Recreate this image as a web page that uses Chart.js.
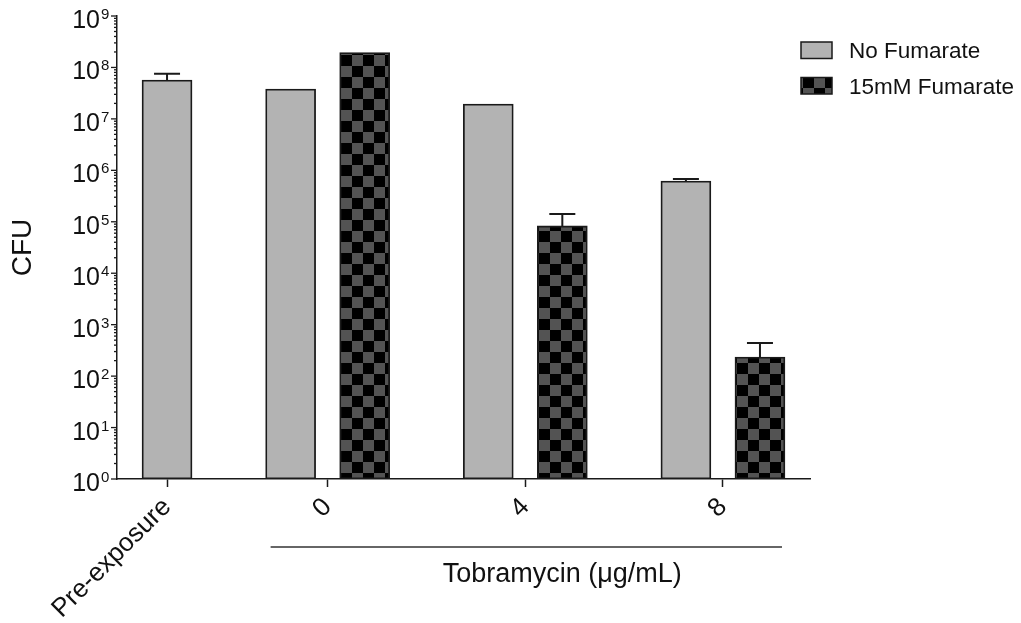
<!DOCTYPE html>
<html>
<head>
<meta charset="utf-8">
<title>CFU after tobramycin exposure</title>
<script src="https://cdn.jsdelivr.net/npm/chart.js@4.4.1/dist/chart.umd.min.js"></script>
<style>
  html, body { margin: 0; padding: 0; background: #fff; }
  #chartBox { width: 1021px; height: 623px; }
</style>
</head>
<body>
<div id="chartBox"><canvas id="cfuChart" width="1021" height="623"></canvas></div>
<script>
// groups on the x axis
const categories = ['Pre-exposure', '0', '4', '8'];
const seriesNames = ['No Fumarate', '15mM Fumarate'];

// mean CFU and upper error per group (null = no bar / no error bar)
const noFumarate    = [5.7e7, 3.8e7, 1.95e7, 6.2e5];
const noFumarateErr = [1.8e7, null,  null,   6e4];
const fumarate      = [null,  1.95e8, 8.3e4, 235];
const fumarateErr   = [null,  null,   5.9e4, 205];

// decades labelled on the y axis
const yExponents = [0, 1, 2, 3, 4, 5, 6, 7, 8, 9];
const drugLabel = 'Tobramycin (\u03bcg/mL)';

const FONT = '"Liberation Sans", Arial, Helvetica, sans-serif';
const INK = '#1a1a1a';

// bar layout along the x axis (units are pixels of the plot width)
const BAR_W = 50, INNER_GAP = 24, GROUP_GAP = 73.5, EDGE_GAP = 25;

const seriesValues = [noFumarate, fumarate];
const seriesErrors = [noFumarateErr, fumarateErr];
const barX = seriesValues.map(() => []);
const groupCenters = [];
const groupEdges = [];
let cursor = EDGE_GAP;
categories.forEach((cat, i) => {
  const present = seriesValues.map((s, k) => k).filter(k => seriesValues[k][i] != null);
  const start = cursor;
  present.forEach((k, j) => {
    barX[k][i] = cursor + BAR_W / 2;
    cursor += BAR_W + (j < present.length - 1 ? INNER_GAP : 0);
  });
  groupCenters.push((start + cursor) / 2);
  groupEdges.push([start, cursor]);
  cursor += (i < categories.length - 1) ? GROUP_GAP : EDGE_GAP;
});
const xMax = cursor;

function checkerPattern(ctx) {
  const c = document.createElement('canvas');
  c.width = 22; c.height = 22;
  const g = c.getContext('2d');
  g.fillStyle = '#535353';
  g.fillRect(0, 0, 22, 22);
  g.fillStyle = '#000000';
  g.fillRect(0, 0, 11, 11);
  g.fillRect(11, 11, 11, 11);
  return ctx.createPattern(c, 'repeat');
}

function buildDataset(k, label, fill) {
  const data = [], errs = [];
  categories.forEach((cat, i) => {
    if (seriesValues[k][i] == null) return;
    data.push({ x: barX[k][i], y: seriesValues[k][i] });
    errs.push(seriesErrors[k][i]);
  });
  return {
    label: label,
    data: data,
    errors: errs,
    backgroundColor: fill,
    borderColor: INK,
    borderWidth: 1.8,
    borderSkipped: false,
    barThickness: BAR_W,
    grouped: false
  };
}

// y axis: decade labels as 10 + raised exponent, major and minor ticks
const decadeAxis = {
  id: 'decadeAxis',
  afterDraw(chart) {
    const ctx = chart.ctx;
    const y = chart.scales.y;
    const ax = y.right;
    ctx.save();
    ctx.strokeStyle = INK;
    ctx.lineWidth = 1.3;
    ctx.fillStyle = '#111';
    yExponents.forEach(n => {
      const py = y.getPixelForValue(Math.pow(10, n));
      ctx.beginPath();
      ctx.moveTo(ax - 6, py); ctx.lineTo(ax, py);
      ctx.stroke();
      if (n < yExponents[yExponents.length - 1]) {
        for (let m = 2; m <= 9; m++) {
          const pm = y.getPixelForValue(m * Math.pow(10, n));
          ctx.beginPath();
          ctx.moveTo(ax - 3, pm); ctx.lineTo(ax, pm);
          ctx.stroke();
        }
      }
      ctx.textBaseline = 'alphabetic';
      ctx.font = '25px ' + FONT;
      ctx.textAlign = 'right';
      ctx.fillText('10', ax - 17, py + 12);
      ctx.font = '15px ' + FONT;
      ctx.textAlign = 'left';
      ctx.fillText(String(n), ax - 16, py + 3);
    });
    ctx.restore();
  }
};

// error bars: stem from bar top to mean + error, with a cap
const errorBars = {
  id: 'errorBars',
  afterDatasetsDraw(chart) {
    const ctx = chart.ctx;
    const y = chart.scales.y;
    ctx.save();
    ctx.strokeStyle = INK;
    ctx.lineWidth = 2;
    chart.data.datasets.forEach((ds, d) => {
      const meta = chart.getDatasetMeta(d);
      meta.data.forEach((bar, i) => {
        const err = ds.errors[i];
        if (err == null) return;
        const top = y.getPixelForValue(ds.data[i].y + err);
        ctx.beginPath();
        ctx.moveTo(bar.x, bar.y);
        ctx.lineTo(bar.x, top);
        ctx.moveTo(bar.x - 13, top);
        ctx.lineTo(bar.x + 13, top);
        ctx.stroke();
      });
    });
    ctx.restore();
  }
};

// bracket under the tobramycin groups with its label
const drugBracket = {
  id: 'drugBracket',
  afterDraw(chart) {
    const ctx = chart.ctx;
    const x = chart.scales.x;
    const left = x.getPixelForValue(groupEdges[1][0]) + 5;
    const right = x.getPixelForValue(groupEdges[groupEdges.length - 1][1]) - 3;
    const ly = x.top + 68;
    ctx.save();
    ctx.strokeStyle = '#333';
    ctx.lineWidth = 1.5;
    ctx.beginPath();
    ctx.moveTo(left, ly); ctx.lineTo(right, ly);
    ctx.stroke();
    ctx.fillStyle = '#111';
    ctx.font = '27px ' + FONT;
    ctx.textAlign = 'center';
    ctx.textBaseline = 'alphabetic';
    ctx.fillText(drugLabel, (left + right) / 2 + 36, ly + 35);
    ctx.restore();
  }
};

// legend to the right of the plot
const sideLegend = {
  id: 'sideLegend',
  afterDraw(chart) {
    const ctx = chart.ctx;
    const area = chart.chartArea;
    ctx.save();
    chart.data.datasets.forEach((ds, i) => {
      const top = 42 + i * 35.5;
      const bx = area.right - 9;
      ctx.fillStyle = ds.backgroundColor;
      ctx.fillRect(bx, top, 31, 16.5);
      ctx.strokeStyle = INK;
      ctx.lineWidth = 1.5;
      ctx.strokeRect(bx, top, 31, 16.5);
      ctx.fillStyle = '#111';
      ctx.font = '22.5px ' + FONT;
      ctx.textAlign = 'left';
      ctx.textBaseline = 'alphabetic';
      ctx.fillText(ds.label, bx + 48, top + 16);
    });
    ctx.restore();
  }
};

const canvas = document.getElementById('cfuChart');
const ctx = canvas.getContext('2d');
Chart.defaults.font.family = FONT;

new Chart(ctx, {
  type: 'bar',
  data: {
    datasets: [
      buildDataset(0, seriesNames[0], '#b3b3b3'),
      buildDataset(1, seriesNames[1], checkerPattern(ctx))
    ]
  },
  options: {
    responsive: false,
    animation: false,
    events: [],
    layout: { padding: { top: 16, right: 211, left: 0, bottom: 0 } },
    plugins: {
      legend: { display: false },
      tooltip: { enabled: false }
    },
    scales: {
      x: {
        type: 'linear',
        offset: false,
        min: 0,
        max: xMax,
        afterBuildTicks: s => { s.ticks = groupCenters.map(v => ({ value: v })); },
        afterFit: s => { s.height = 144; },
        grid: { display: true, offset: false, drawOnChartArea: false, drawTicks: true, tickLength: 8, tickWidth: 1.5, tickColor: INK },
        border: { display: true, color: INK, width: 1.5 },
        ticks: {
          autoSkip: false,
          minRotation: 45,
          maxRotation: 45,
          padding: 5,
          color: '#111',
          font: { size: 26 },
          callback: (v, i) => categories[i]
        }
      },
      y: {
        type: 'logarithmic',
        min: 1,
        max: 1e9,
        afterFit: s => { s.width = 117; },
        grid: { display: false },
        border: { display: true, color: INK, width: 1.5 },
        ticks: { display: false },
        title: { display: true, text: 'CFU', color: '#111', font: { size: 28 }, padding: { top: 6, bottom: 0 } }
      }
    }
  },
  plugins: [errorBars, decadeAxis, drugBracket, sideLegend]
});
</script>
</body>
</html>
